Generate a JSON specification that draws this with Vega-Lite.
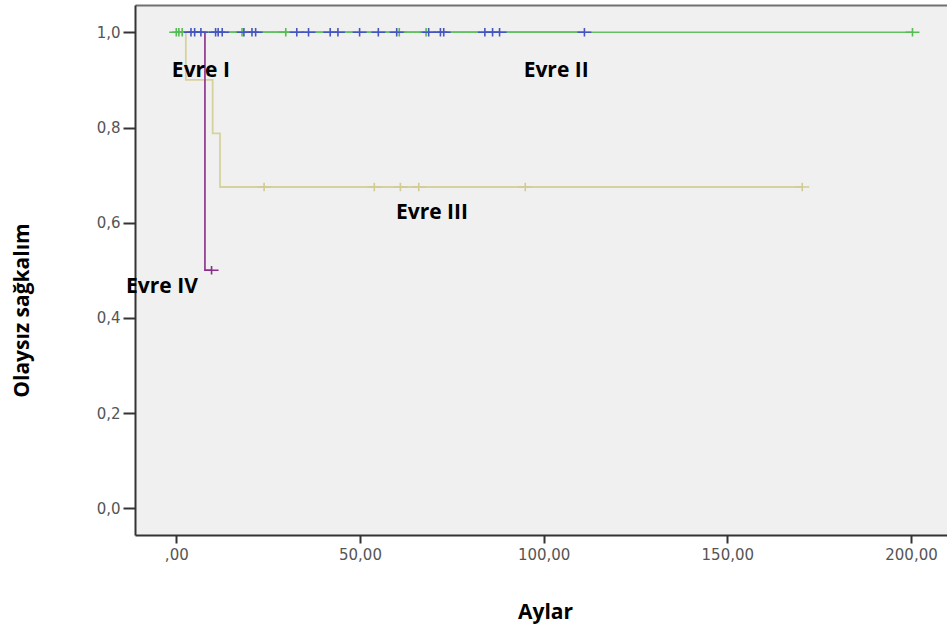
{
  "$schema": "https://vega.github.io/schema/vega-lite/v6.json",
  "autosize": "none",
  "width": 812,
  "height": 530,
  "padding": {"left": 135, "top": 5, "right": 0, "bottom": 95},
  "background": "white",
  "config": {
    "view": {"fill": "#f0f0f0", "stroke": null},
    "axis": {
      "grid": false,
      "labelFont": "DejaVu Sans", "labelFontSize": 15, "labelColor": "#555555",
      "domainColor": "#333333", "domainWidth": 2,
      "tickColor": "#333333", "tickWidth": 2,
      "titleFont": "Open Sans", "titleFontWeight": "bold", "titleFontSize": 21, "titleColor": "#000000"
    }
  },
  "datasets": {
    "steps": [
      {"evre": "Evre II", "t": 0, "s": 1},
      {"evre": "Evre II", "t": 111.1, "s": 1},
      {"evre": "Evre I", "t": 0, "s": 1},
      {"evre": "Evre I", "t": 200.4, "s": 1},
      {"evre": "Evre III", "t": 0, "s": 1},
      {"evre": "Evre III", "t": 2.6, "s": 0.9},
      {"evre": "Evre III", "t": 9.9, "s": 0.7875},
      {"evre": "Evre III", "t": 11.9, "s": 0.675},
      {"evre": "Evre III", "t": 170.4, "s": 0.675},
      {"evre": "Evre IV", "t": 0, "s": 1},
      {"evre": "Evre IV", "t": 7.8, "s": 0.5},
      {"evre": "Evre IV", "t": 9.6, "s": 0.5}
    ],
    "censored": [
      {"evre": "Evre I", "t": 0, "s": 1},
      {"evre": "Evre I", "t": 0.7, "s": 1},
      {"evre": "Evre I", "t": 1.6, "s": 1},
      {"evre": "Evre I", "t": 17.9, "s": 1},
      {"evre": "Evre I", "t": 29.8, "s": 1},
      {"evre": "Evre I", "t": 60.7, "s": 1},
      {"evre": "Evre I", "t": 68.0, "s": 1},
      {"evre": "Evre I", "t": 200.4, "s": 1},
      {"evre": "Evre II", "t": 4.0, "s": 1},
      {"evre": "Evre II", "t": 5.0, "s": 1},
      {"evre": "Evre II", "t": 6.7, "s": 1},
      {"evre": "Evre II", "t": 10.7, "s": 1},
      {"evre": "Evre II", "t": 11.4, "s": 1},
      {"evre": "Evre II", "t": 12.5, "s": 1},
      {"evre": "Evre II", "t": 18.4, "s": 1},
      {"evre": "Evre II", "t": 20.6, "s": 1},
      {"evre": "Evre II", "t": 21.6, "s": 1},
      {"evre": "Evre II", "t": 32.8, "s": 1},
      {"evre": "Evre II", "t": 36.0, "s": 1},
      {"evre": "Evre II", "t": 41.9, "s": 1},
      {"evre": "Evre II", "t": 44.0, "s": 1},
      {"evre": "Evre II", "t": 49.9, "s": 1},
      {"evre": "Evre II", "t": 55.0, "s": 1},
      {"evre": "Evre II", "t": 60.0, "s": 1},
      {"evre": "Evre II", "t": 68.7, "s": 1},
      {"evre": "Evre II", "t": 71.9, "s": 1},
      {"evre": "Evre II", "t": 72.8, "s": 1},
      {"evre": "Evre II", "t": 84.0, "s": 1},
      {"evre": "Evre II", "t": 86.1, "s": 1},
      {"evre": "Evre II", "t": 88.0, "s": 1},
      {"evre": "Evre II", "t": 111.1, "s": 1},
      {"evre": "Evre III", "t": 23.9, "s": 0.675},
      {"evre": "Evre III", "t": 53.9, "s": 0.675},
      {"evre": "Evre III", "t": 61.0, "s": 0.675},
      {"evre": "Evre III", "t": 66.0, "s": 0.675},
      {"evre": "Evre III", "t": 95.0, "s": 0.675},
      {"evre": "Evre III", "t": 170.4, "s": 0.675},
      {"evre": "Evre IV", "t": 9.6, "s": 0.5}
    ],
    "labels": [
      {"label": "Evre I", "t": 6.7, "s": 0.907},
      {"label": "Evre II", "t": 103.4, "s": 0.907},
      {"label": "Evre III", "t": 69.6, "s": 0.608},
      {"label": "Evre IV", "t": -3.9, "s": 0.452}
    ]
  },
  "encoding": {
    "y": {
      "field": "s", "type": "quantitative",
      "scale": {"domain": [-0.0561, 1.0574], "nice": false, "zero": false},
      "axis": {
        "values": [0, 0.2, 0.4, 0.6, 0.8, 1.0],
        "labelExpr": "replace(format(datum.value, '.1f'), '.', ',')",
        "labelFont": "DejaVu Sans", "labelFontSize": 15, "labelColor": "#555555",
        "labelPadding": 3,
        "tickSize": 12,
        "title": "Olaysız sağkalım",
        "titleAngle": -90, "titleX": -113, "titleY": 305, "titleAlign": "center", "titleBaseline": "middle"
      }
    }
  },
  "layer": [
    {
      "data": {"name": "steps"},
      "transform": [{"filter": "datum.evre === 'Evre II'"}],
      "mark": {"type": "line", "interpolate": "step-after", "color": "#4d5fc1", "strokeWidth": 1.6},
      "encoding": {
        "x": {
          "field": "t", "type": "quantitative",
          "scale": {"domain": [-11.24, 209.8], "nice": false, "zero": false},
          "axis": {
            "orient": "bottom",
            "values": [0, 50, 100, 150, 200],
            "labelExpr": "datum.value == 0 ? ',00' : replace(format(datum.value, '.2f'), '.', ',')",
            "labelPadding": 4,
            "tickSize": 8,
            "title": "Aylar",
            "titleX": 410, "titleY": 83, "titleAlign": "center", "titleBaseline": "alphabetic"
          }
        }
      }
    },
    {
      "data": {"name": "steps"},
      "transform": [{"filter": "datum.evre === 'Evre I'"}],
      "mark": {"type": "line", "interpolate": "step-after", "color": "#62c262", "strokeWidth": 1.6},
      "encoding": {
        "x": {"field": "t", "type": "quantitative", "axis": null}
      }
    },
    {
      "data": {"name": "steps"},
      "transform": [{"filter": "datum.evre === 'Evre III'"}],
      "mark": {"type": "line", "interpolate": "step-after", "color": "#d6d29e", "strokeWidth": 1.8},
      "encoding": {
        "x": {"field": "t", "type": "quantitative", "axis": null}
      }
    },
    {
      "data": {"name": "steps"},
      "transform": [{"filter": "datum.evre === 'Evre IV'"}],
      "mark": {"type": "line", "interpolate": "step-after", "color": "#8a2c8a", "strokeWidth": 1.6},
      "encoding": {
        "x": {"field": "t", "type": "quantitative", "axis": null}
      }
    },
    {
      "data": {"name": "censored"},
      "mark": {"type": "point", "shape": "M-1,0H1M0,-0.6V0.6", "size": 196, "filled": false, "strokeWidth": 1.6, "opacity": 1},
      "encoding": {
        "x": {"field": "t", "type": "quantitative", "axis": null},
        "color": {
          "field": "evre", "type": "nominal", "legend": null,
          "scale": {
            "domain": ["Evre I", "Evre II", "Evre III", "Evre IV"],
            "range": ["#55bb55", "#4456bd", "#d0cc94", "#8a2c8a"]
          }
        }
      }
    },
    {
      "data": {"name": "labels"},
      "mark": {"type": "text", "font": "Open Sans", "fontWeight": "bold", "fontSize": 21, "color": "#000000", "align": "center", "baseline": "alphabetic"},
      "encoding": {
        "x": {
          "field": "t", "type": "quantitative",
          "axis": {
            "orient": "top", "labels": false, "ticks": false, "title": null,
            "domainColor": "#707070", "domainWidth": 2
          }
        },
        "text": {"field": "label"}
      }
    }
  ],
  "resolve": {"axis": {"x": "independent"}}
}
